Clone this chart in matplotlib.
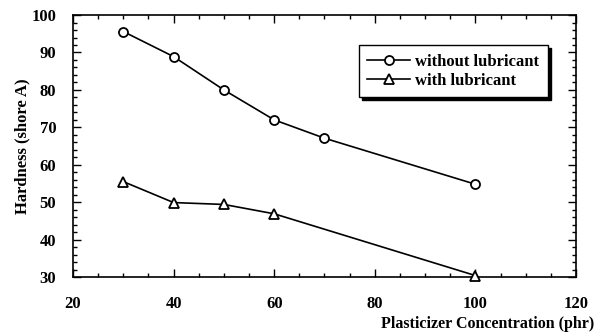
import matplotlib.pyplot as plt
from matplotlib.ticker import MultipleLocator

conc_without = [30, 40, 50, 60, 70, 100]
hard_without = [95.6, 88.9, 80.0, 72.0, 67.1, 54.8]

conc_with = [30, 40, 50, 60, 100]
hard_with = [55.5, 49.9, 49.4, 46.9, 30.4]

plt.rcParams["font.family"] = "Liberation Serif"
plt.rcParams["font.weight"] = "bold"

fig = plt.figure(figsize=(5.95, 3.35), dpi=100)
ax = fig.add_axes([0.1227, 0.173, 0.8453, 0.782])

ax.plot(conc_without, hard_without, color="black", lw=1.2, marker="o",
        ms=6.5, mfc="white", mec="black", mew=1.3, label="without lubricant")
ax.plot(conc_with, hard_with, color="black", lw=1.2, marker="^",
        ms=6.5, mfc="white", mec="black", mew=1.3, label="with lubricant",
        clip_on=False, zorder=5)

ax.set_xlim(20, 120)
ax.set_ylim(30, 100)
ax.xaxis.set_major_locator(MultipleLocator(20))
ax.xaxis.set_minor_locator(MultipleLocator(5))
ax.yaxis.set_major_locator(MultipleLocator(10))
ax.yaxis.set_minor_locator(MultipleLocator(2))
ax.tick_params(which="both", direction="in", top=True, right=True, width=1)
ax.tick_params(which="major", length=6, labelsize=12)
ax.tick_params(axis="x", which="major", pad=14)
ax.tick_params(axis="y", which="major", pad=12)
ax.tick_params(which="minor", length=3)
for lab in ax.get_xticklabels() + ax.get_yticklabels():
    lab.set_fontweight("bold")
for s in ax.spines.values():
    s.set_linewidth(1.2)

ax.set_ylabel("Hardness (shore A)", fontsize=12, fontweight="bold", labelpad=1)
fig.text(0.998, 0.008, "Plasticizer Concentration (phr)", ha="right",
         va="bottom", fontsize=11.5, fontweight="bold")

leg = ax.legend(loc="upper right", bbox_to_anchor=(0.944, 0.885),
                borderaxespad=0, fancybox=False,
                shadow={"color": "black", "alpha": 1},
                edgecolor="black", prop={"weight": "bold", "size": 12},
                handlelength=2.6, handletextpad=0.3,
                borderpad=0.5, labelspacing=0.2)
leg.get_frame().set_linewidth(1.0)

fig.savefig("out.png", dpi=100)
